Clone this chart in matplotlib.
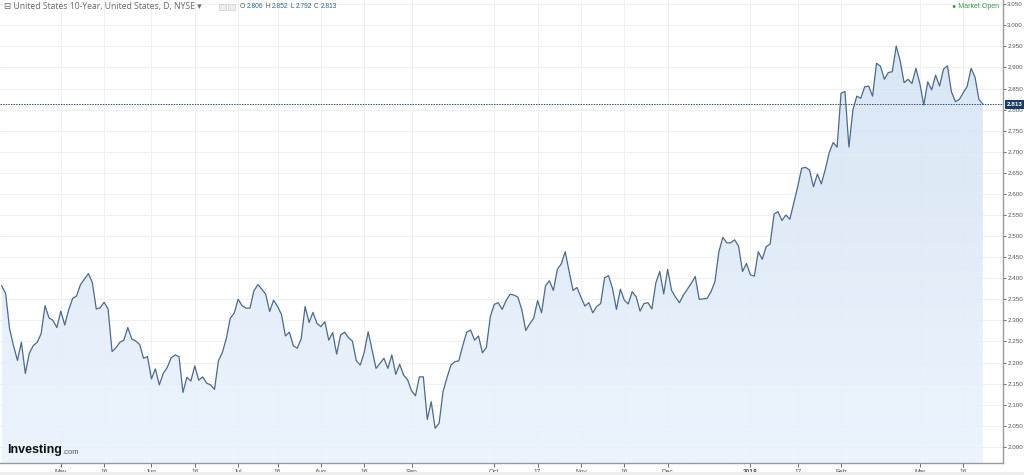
import numpy as np
import pandas as pd
import matplotlib
matplotlib.use('Agg')
import matplotlib.pyplot as plt
from matplotlib.colors import LinearSegmentedColormap
from matplotlib.patches import Rectangle

# daily closes, US 10Y yield (Apr 2017 - Mar 2018)
yields = [
    2.382, 2.364, 2.280, 2.240, 2.205, 2.248, 2.174, 2.222, 2.240, 2.248, 2.268, 2.335, 2.306, 2.300,
    2.283, 2.322, 2.289, 2.325, 2.352, 2.358, 2.385, 2.398, 2.411, 2.390, 2.327, 2.330, 2.343,
    2.327, 2.226, 2.235, 2.248, 2.253, 2.283, 2.256, 2.251, 2.243, 2.210, 2.214, 2.161, 2.185, 2.147,
    2.174, 2.188, 2.211, 2.218, 2.214, 2.129, 2.165, 2.156, 2.192, 2.158, 2.166, 2.151, 2.147, 2.136,
    2.204, 2.224, 2.257, 2.305, 2.317, 2.350, 2.335, 2.329,
    2.329, 2.370, 2.385, 2.374, 2.362, 2.321, 2.348, 2.333, 2.314, 2.263, 2.272, 2.240, 2.234, 2.256,
    2.333, 2.295, 2.319, 2.293, 2.285, 2.297, 2.253, 2.271, 2.220, 2.265, 2.272, 2.259, 2.251, 2.204,
    2.194, 2.224, 2.273, 2.230, 2.186, 2.198, 2.210, 2.186, 2.218, 2.172, 2.196, 2.170, 2.159, 2.133,
    2.121, 2.166, 2.166, 2.065, 2.107, 2.044, 2.056, 2.131, 2.164, 2.194, 2.202, 2.204, 2.240, 2.272,
    2.277, 2.253, 2.263, 2.223, 2.236, 2.309, 2.338, 2.342,
    2.326, 2.347, 2.362, 2.360, 2.355, 2.325, 2.276, 2.292, 2.305, 2.347, 2.318, 2.382, 2.394, 2.371,
    2.421, 2.434, 2.463, 2.416, 2.371, 2.378, 2.355, 2.334, 2.342, 2.318, 2.333, 2.340, 2.401, 2.406,
    2.376, 2.326, 2.374, 2.348, 2.339, 2.368, 2.356, 2.322, 2.340, 2.342, 2.327, 2.389, 2.416, 2.363,
    2.421, 2.371, 2.355, 2.342, 2.360, 2.374, 2.388, 2.404, 2.350, 2.351, 2.352, 2.368, 2.392, 2.463,
    2.497, 2.484, 2.484, 2.491, 2.476, 2.416, 2.435, 2.408,
    2.405, 2.463, 2.445, 2.475, 2.481, 2.552, 2.558, 2.537, 2.550, 2.540, 2.578, 2.617, 2.661, 2.663,
    2.657, 2.617, 2.647, 2.624, 2.658, 2.698, 2.722, 2.711, 2.839, 2.843, 2.711, 2.799, 2.832, 2.827,
    2.854, 2.856, 2.832, 2.910, 2.903, 2.872, 2.888, 2.890, 2.951, 2.916, 2.864, 2.872, 2.862, 2.898,
    2.862, 2.811, 2.866, 2.847, 2.882, 2.856, 2.896, 2.904, 2.843, 2.819, 2.824, 2.840, 2.855, 2.898,
    2.877, 2.824, 2.813,
]
dates = pd.bdate_range('2017-04-10', periods=len(yields))

tick_dates = ['2017-05-01', '2017-05-16', '2017-06-01', '2017-06-16', '2017-07-03', '2017-07-17',
              '2017-08-01', '2017-08-16', '2017-09-01', '2017-10-02', '2017-10-17', '2017-11-01',
              '2017-11-16', '2017-12-01', '2018-01-01', '2018-01-17', '2018-02-01', '2018-03-01',
              '2018-03-16']
tick_labels = ['May', '16', 'Jun', '16', 'Jul', '16', 'Aug', '16', 'Sep', 'Oct', '17', 'Nov', '16',
               'Dec', '2018', '17', 'Feb', 'Mar', '16']

ohlc = [('O', 2.806), ('H', 2.852), ('L', 2.792), ('C', 2.813)]
last_close = ohlc[-1][1]

plt.rcParams['font.family'] = ['Liberation Sans', 'DejaVu Sans']

W, H = 1024, 475
fig = plt.figure(figsize=(W / 100, H / 100), dpi=100)
ax = fig.add_axes([0, 12 / H, 1003 / W, 463 / H])

x = np.arange(len(yields))
ylo, yhi = 1.9616, 3.0601

# grid
yt = np.round(np.arange(2.0, 3.0501, 0.05), 3)
xt = np.searchsorted(dates, pd.to_datetime(tick_dates))
ax.set_yticks(yt)
ax.set_yticklabels([f'{v:.3f}' for v in yt])
ax.set_xticks(xt)
ax.set_xticklabels(tick_labels)
for lab in ax.get_xticklabels():
    if lab.get_text() == '2018':
        lab.set_fontweight('bold')
ax.grid(color='#eeeeee', lw=0.6)
ax.set_axisbelow(True)

# gradient area + line
poly = ax.fill_between(x, yields, ylo, color='none', lw=0)
grad = np.linspace(0, 1, 256).reshape(-1, 1)
cmap = LinearSegmentedColormap.from_list('fill', ['#ebf3fd', '#d3e2f3'])
im = ax.imshow(grad, extent=[x[0], x[-1], ylo, yhi], origin='lower', aspect='auto',
               cmap=cmap, alpha=0.92, zorder=1)
im.set_clip_path(poly.get_paths()[0], transform=ax.transData)
ax.plot(x, yields, color='#4d6a8b', lw=0.9, zorder=3)

ax.axhline(last_close, color='#2a4f7a', lw=0.7, ls=(0, (1.5, 1.2)), zorder=4)

ax.set_xlim(-0.43, 254.1)
ax.set_ylim(ylo, yhi)

ax.yaxis.tick_right()
ax.tick_params(axis='y', labelsize=4.5, colors='#555555', length=2, width=0.6, pad=1)
ax.tick_params(axis='x', labelsize=4.8, colors='#555555', length=3, width=0.6, pad=1.5)
for s in ['top', 'left']:
    ax.spines[s].set_visible(False)
for s in ['right', 'bottom']:
    ax.spines[s].set_color('#9a9a9a')
    ax.spines[s].set_linewidth(1)

# last price tag
ax.text(1.0035, last_close, f'{last_close:.3f}', transform=ax.get_yaxis_transform(),
        ha='left', va='center', fontsize=4.5, color='white', fontweight='bold', zorder=10,
        clip_on=False, bbox=dict(boxstyle='square,pad=0.3', fc='#1c3d63', ec='none'))

# header
hy = 1 - 7 / H
t = fig.text(4 / W, hy, '\u229f United States 10-Year, United States, D, NYSE \u25be',
             fontsize=6.2, color='#6a6a6a', va='center', family=['Open Sans', 'DejaVu Sans'])
fig.patches.append(Rectangle((219 / W, 1 - 10 / H), 7 / W, 6 / H, transform=fig.transFigure,
                             fc='#eeeeee', ec='#cccccc', lw=0.5))
fig.patches.append(Rectangle((228 / W, 1 - 10 / H), 7 / W, 6 / H, transform=fig.transFigure,
                             fc='#eeeeee', ec='#cccccc', lw=0.5))
prev = None
xpos = 240 / W
for k, v in ohlc:
    if prev is None:
        a = fig.text(xpos, hy, k + ' ', fontsize=4.8, color='#555555', va='center')
    else:
        a = ax.annotate(' ' + k + ' ', xy=(1, 0.5), xycoords=prev, fontsize=4.8,
                        color='#555555', va='center', annotation_clip=False)
    prev = ax.annotate(f'{v:.3f}', xy=(1, 0.5), xycoords=a, fontsize=4.8, color='#2d6595',
                       va='center', annotation_clip=False)

fig.text(999 / W, hy, '\u25cf Market Open', fontsize=5, color='#3a9a4a', va='center', ha='right')

# logo
logo = fig.text(7 / W, (H - 456) / H, 'Investing', fontsize=9, fontweight='bold',
                color='#111111', va='bottom')
ax.annotate('.com', xy=(1, 0), xycoords=logo, fontsize=5.5, color='#555555', va='bottom',
            annotation_clip=False)

fig.patches.append(Rectangle((0, 0), 1, 3 / H, transform=fig.transFigure, fc='#eeeeee',
                             ec='none'))

fig.savefig('out.png', dpi=100)
